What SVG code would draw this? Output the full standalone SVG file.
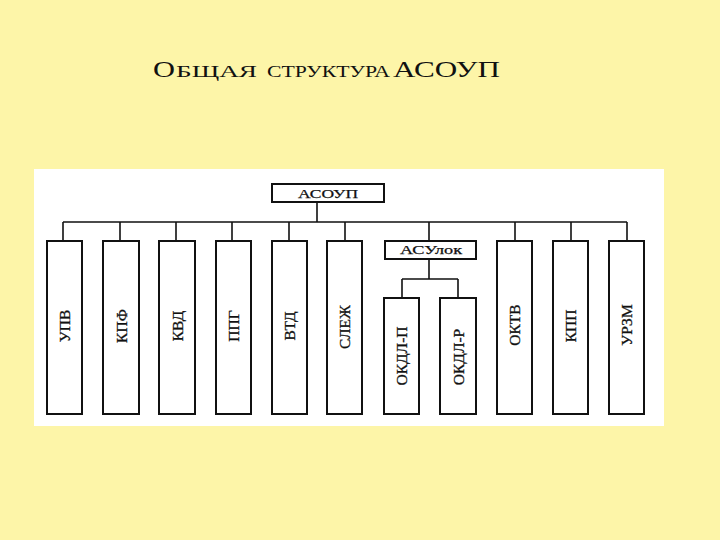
<svg xmlns="http://www.w3.org/2000/svg" width="720" height="540" viewBox="0 0 720 540">
<style>
.t{font-family:"Liberation Serif","DejaVu Serif",serif;fill:#111}
.box{fill:#fff;stroke:#111;stroke-width:2}
.ln{fill:none;stroke:#111;stroke-width:1.6}
.lab{font-family:"Liberation Serif","DejaVu Serif",serif;font-size:15.5px;fill:#111;stroke:#111;stroke-width:0.3;text-anchor:middle}
</style>
<rect x="0" y="0" width="720" height="540" fill="#FDF5A8"/>
<g id="title">
<text class="t" x="153" y="77" font-size="23" textLength="22" lengthAdjust="spacingAndGlyphs">О</text>
<text class="t" x="176" y="77" font-size="16.5" textLength="81" lengthAdjust="spacingAndGlyphs">БЩАЯ</text>
<text class="t" x="267" y="77" font-size="16.5" textLength="123" lengthAdjust="spacingAndGlyphs">СТРУКТУРА</text>
<text class="t" x="393" y="77" font-size="23" textLength="107" lengthAdjust="spacingAndGlyphs">АСОУП</text>
</g>
<rect x="34" y="169" width="630" height="257" fill="#FFFFFF"/>
<g id="connectors">
<path class="ln" d="M317 202V222M63 222H627M63 222V241M120 222V241M176 222V241M232 222V241M289 222V241M345 222V241M429 222V241M515 222V241M571 222V241M627 222V241"/>
<path class="ln" d="M429 259V279M402 279H458M402 279V298M458 279V298"/>
</g>
<g id="n-asoup"><rect class="box" x="272" y="184" width="112" height="18"/><text class="t" x="298" y="198" font-size="13.5" stroke="#111" stroke-width="0.25" textLength="60" lengthAdjust="spacingAndGlyphs">АСОУП</text></g>
<g id="n-asulok"><rect class="box" x="385" y="241" width="91" height="18"/><text class="t" x="400" y="254" font-size="13.5" stroke="#111" stroke-width="0.25" textLength="62" lengthAdjust="spacingAndGlyphs">АСУлок</text></g>
<g id="n-upv"><rect class="box" x="47" y="241" width="35" height="173"/><text class="lab" transform="translate(65,326) rotate(-90)" y="5">УПВ</text></g>
<g id="n-kpf"><rect class="box" x="103" y="241" width="36" height="173"/><text class="lab" transform="translate(121.5,326) rotate(-90)" y="5">КПФ</text></g>
<g id="n-kvd"><rect class="box" x="159" y="241" width="36" height="173"/><text class="lab" transform="translate(177.5,326) rotate(-90)" y="5">КВД</text></g>
<g id="n-ppg"><rect class="box" x="216" y="241" width="35" height="173"/><text class="lab" transform="translate(234,326) rotate(-90)" y="5">ППГ</text></g>
<g id="n-vtd"><rect class="box" x="272" y="241" width="35" height="173"/><text class="lab" transform="translate(290,326) rotate(-90)" y="5">ВТД</text></g>
<g id="n-slezh"><rect class="box" x="327" y="241" width="35" height="173"/><text class="lab" transform="translate(345,327) rotate(-90)" y="5">СЛЕЖ</text></g>
<g id="n-okdl-p"><rect class="box" x="384" y="298" width="35" height="116"/><text class="lab" transform="translate(402,356) rotate(-90)" y="5">ОКДЛ-П</text></g>
<g id="n-okdl-r"><rect class="box" x="440" y="298" width="36" height="116"/><text class="lab" transform="translate(458.5,357) rotate(-90)" y="5">ОКДЛ-Р</text></g>
<g id="n-oktv"><rect class="box" x="497" y="241" width="35" height="173"/><text class="lab" transform="translate(515,325) rotate(-90)" y="5">ОКТВ</text></g>
<g id="n-kpp"><rect class="box" x="553" y="241" width="35" height="173"/><text class="lab" transform="translate(571,326) rotate(-90)" y="5">КПП</text></g>
<g id="n-urzm"><rect class="box" x="609" y="241" width="35" height="173"/><text class="lab" transform="translate(627,325) rotate(-90)" y="5">УРЗМ</text></g>
</svg>
